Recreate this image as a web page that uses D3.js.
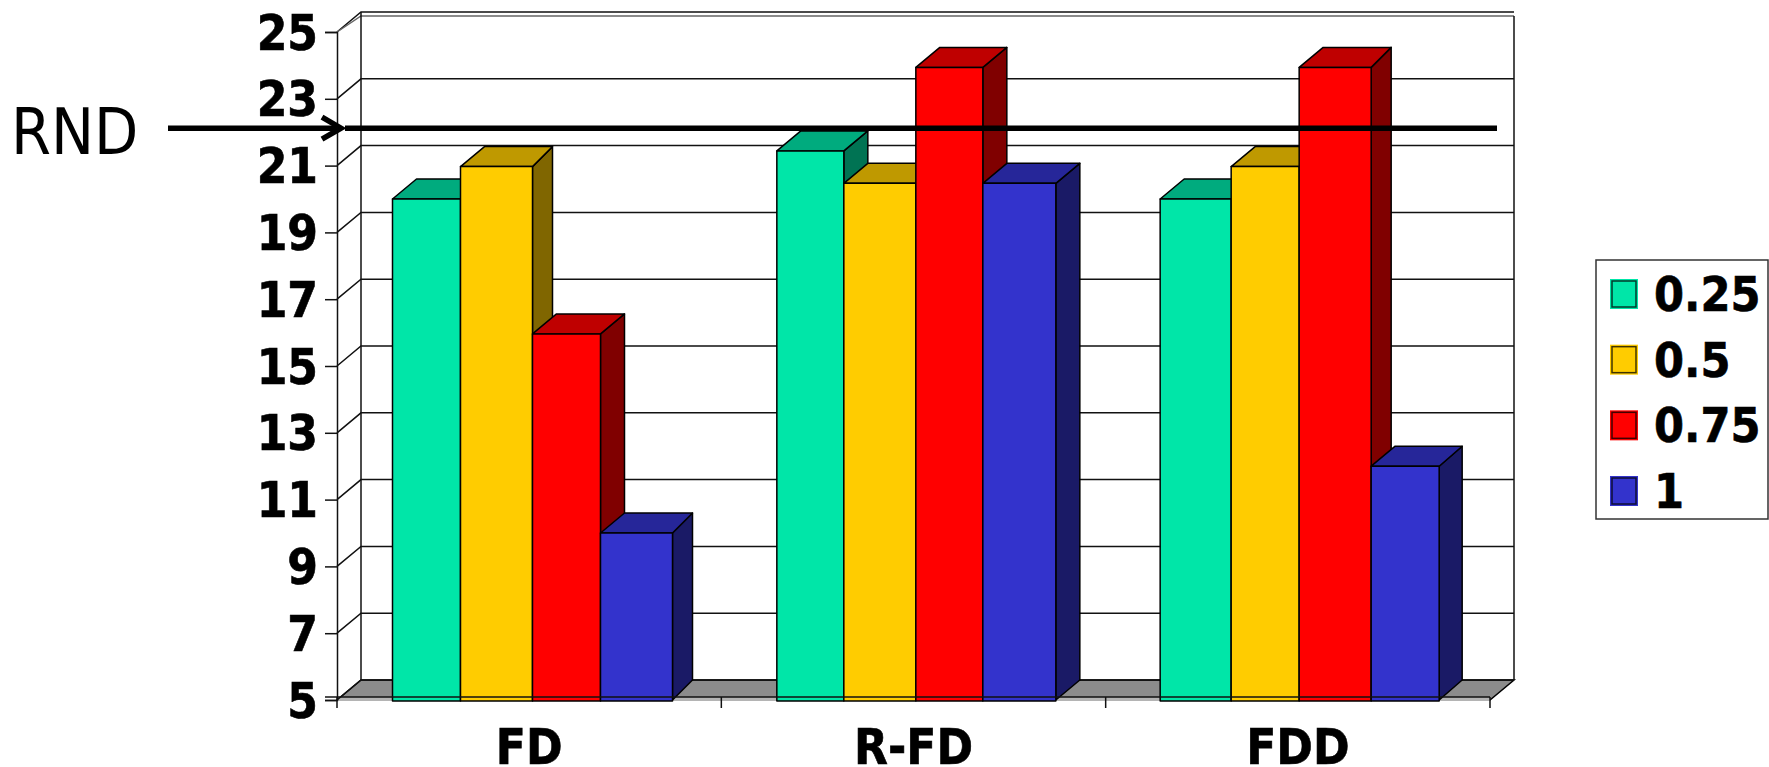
<!DOCTYPE html>
<html>
<head>
<meta charset="utf-8">
<script src="https://cdn.jsdelivr.net/npm/d3@7"></script>
<style>
body { margin: 0; background: #fff; }
text { font-family: "DejaVu Sans Condensed", "DejaVu Sans", sans-serif; font-stretch: condensed; fill: #000; }
.heavy { font-weight: bold; stroke: #000; stroke-width: 0.6px; }
</style>
</head>
<body>
<script>
var categories = ["FD", "R-FD", "FDD"];
var seriesNames = ["0.25", "0.5", "0.75", "1"];
var values025 = [20, 21.44, 20];
var values05 = [20.97, 20.47, 20.97];
var values075 = [15.96, 23.94, 23.94];
var values1 = [10, 20.47, 12];
var yTicks = [5, 7, 9, 11, 13, 15, 17, 19, 21, 23, 25];
var rndValue = 22;
var frontColors = ["#00E6A8", "#FFCC00", "#FF0000", "#3333CC"];
var topColors = ["#00AB7E", "#BF9900", "#BF0000", "#262699"];
var sideColors = ["#007353", "#806600", "#800000", "#1A1A66"];

var w = 1769;
var h = 767;
var plotLeft = 337, plotRight = 1490, plotTop = 32, plotBottom = 700;
var depthL = 24, depthY = 20;
// the original's 3d projection is a bit uneven from bar to bar
var depthR = [[20, 20, 24, 20], [24, 24, 24, 24], [21, 21, 20, 23]];
var edgeNudge = [[0, -2, 0, -2, 0], [0, -3, -1, -4, -1], [-1, 0, -2, 0, -2]];

var allValues = [values025, values05, values075, values1];

var svg = d3.select("body").append("svg")
	.attr("width", w)
	.attr("height", h)
	.style("display", "block");

var yScale = d3.scaleLinear().domain([5, 25]).range([plotBottom, plotTop]);
var xScale = d3.scaleBand().domain(categories).range([plotLeft, plotRight]);
var xEdges = d3.scaleLinear().domain([0, categories.length]).range([plotLeft, plotRight]);
var barScale = d3.scaleBand().domain(seriesNames).range([55.5, 335.5]);

// back wall and floor
svg.append("polygon")
	.attr("points", [[plotLeft, plotBottom], [plotRight, plotBottom], [plotRight + depthL, plotBottom - depthY], [plotLeft + depthL, plotBottom - depthY]].join(" "))
	.attr("fill", "#8C8C8C")
	.attr("stroke", "#000")
	.attr("stroke-width", 1.5);

svg.append("rect")
	.attr("x", plotLeft)
	.attr("y", plotBottom - 3)
	.attr("width", plotRight - plotLeft)
	.attr("height", 4)
	.attr("fill", "#B4B4B4");

var grid = svg.append("g").attr("fill", "none").attr("stroke", "#111").attr("stroke-width", 1.5);

grid.selectAll("path")
	.data(yTicks)
	.enter()
	.append("path")
	.attr("d", function(d){
		var y = yScale(d);
		return "M" + plotLeft + "," + y + "L" + (plotLeft + depthL) + "," + (y - depthY) + "L" + (plotRight + depthL) + "," + (y - depthY);
	});

// second top edge of the frame
grid.append("path")
	.attr("d", "M" + plotLeft + "," + plotTop + "L" + (plotLeft + depthL) + "," + (plotTop - 16) + "L" + (plotRight + depthL) + "," + (plotTop - 16))
	.attr("stroke", "#666");

grid.append("line")
	.attr("x1", plotLeft + depthL).attr("x2", plotLeft + depthL)
	.attr("y1", plotTop - depthY).attr("y2", plotBottom - depthY);

grid.append("line")
	.attr("x1", plotRight + depthL).attr("x2", plotRight + depthL)
	.attr("y1", plotTop - 16).attr("y2", plotBottom - depthY);

// bars
var bars = svg.append("g").attr("stroke", "#000").attr("stroke-width", 1.5).attr("stroke-linejoin", "round");

categories.forEach(function(cat, c){
	seriesNames.forEach(function(name, s){
		var v = allValues[s][c];
		var x0 = xEdges(c) + barScale(name) + edgeNudge[c][s];
		var x1 = xEdges(c) + barScale(name) + barScale.bandwidth() + edgeNudge[c][s + 1];
		var y0 = yScale(v);
		var dr = depthR[c][s];

		bars.append("polygon")
			.attr("points", [[x1, y0], [x1 + dr, y0 - depthY], [x1 + dr, plotBottom - depthY], [x1, plotBottom]].join(" "))
			.attr("fill", sideColors[s]);

		bars.append("polygon")
			.attr("points", [[x0, y0], [x0 + depthL, y0 - depthY], [x1 + dr, y0 - depthY], [x1, y0]].join(" "))
			.attr("fill", topColors[s]);

		bars.append("rect")
			.attr("x", x0)
			.attr("y", y0)
			.attr("width", x1 - x0)
			.attr("height", plotBottom + 1 - y0)
			.attr("fill", frontColors[s]);
	});
});

// frame line over the bar feet
svg.append("line")
	.attr("x1", plotLeft - 12).attr("x2", plotRight)
	.attr("y1", plotBottom - 3).attr("y2", plotBottom - 3)
	.attr("stroke", "#111")
	.attr("stroke-width", 1.5);

// axes
var yAxis = d3.axisLeft(yScale).tickValues(yTicks).tickSize(12).tickPadding(7);

var yG = svg.append("g")
	.attr("transform", "translate(" + plotLeft + ",0)")
	.call(yAxis);

yG.select(".domain").attr("stroke", "#111").attr("stroke-width", 1.5);
yG.selectAll(".tick line").attr("stroke", "#111").attr("stroke-width", 1.5);
yG.selectAll(".tick text")
	.attr("font-family", null)
	.attr("dy", "0.35em")
	.attr("class", "heavy")
	.style("font-size", "49px");

var xAxis = d3.axisBottom(xScale).tickSize(0).tickPadding(29);

var xG = svg.append("g")
	.attr("transform", "translate(0," + plotBottom + ")")
	.call(xAxis);

xG.select(".domain").remove();
xG.selectAll(".tick text")
	.attr("font-family", null)
	.attr("dy", "0.71em")
	.attr("class", "heavy")
	.style("font-size", "49px");

svg.append("g")
	.selectAll("line")
	.data(d3.range(categories.length + 1))
	.enter()
	.append("line")
	.attr("x1", function(d){ return xEdges(d); })
	.attr("x2", function(d){ return xEdges(d); })
	.attr("y1", plotBottom - 3)
	.attr("y2", plotBottom + 8)
	.attr("stroke", "#111")
	.attr("stroke-width", 1.5);

// RND marker
var rndY = yScale(rndValue) - 4;
var marker = svg.append("g").attr("stroke", "#000").attr("stroke-width", 5.5).attr("fill", "none");

marker.append("line").attr("x1", 168).attr("x2", 340).attr("y1", rndY).attr("y2", rndY);
marker.append("path").attr("d", "M322," + (rndY - 11) + "L341," + rndY + "L322," + (rndY + 11));
marker.append("line").attr("x1", 345).attr("x2", 1497).attr("y1", rndY).attr("y2", rndY);

svg.append("text")
	.attr("x", 11)
	.attr("y", rndY + 25.5)
	.style("font-size", "64px")
	.text("RND");

// legend
var legendY = d3.scalePoint().domain(seriesNames).range([294, 491]);

var legend = svg.append("g");

legend.append("rect")
	.attr("x", 1596)
	.attr("y", 260)
	.attr("width", 172)
	.attr("height", 259)
	.attr("fill", "#fff")
	.attr("stroke", "#333")
	.attr("stroke-width", 1.5);

seriesNames.forEach(function(name, s){
	var cy = legendY(name);

	legend.append("rect")
		.attr("x", 1610).attr("y", cy - 15)
		.attr("width", 28).attr("height", 30)
		.attr("fill", frontColors[s]);

	legend.append("rect")
		.attr("x", 1612).attr("y", cy - 13)
		.attr("width", 24).attr("height", 26)
		.attr("fill", "none")
		.attr("stroke", "#000")
		.attr("stroke-opacity", 0.75)
		.attr("stroke-width", 1.5);

	legend.append("text")
		.attr("x", 1654)
		.attr("y", cy + 17)
		.attr("class", "heavy")
		.style("font-size", "48px")
		.text(name);
});
</script>
</body>
</html>
